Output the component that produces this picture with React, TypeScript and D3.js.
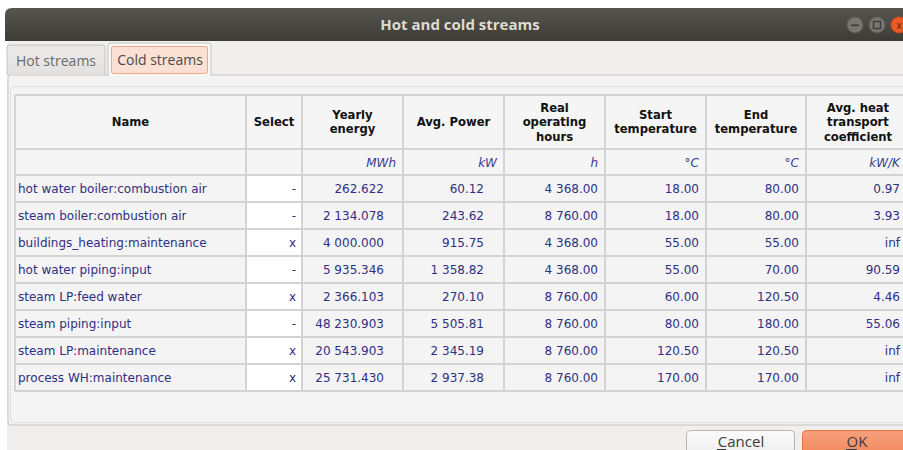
import { cumsum, format, formatLocale, scaleBand } from "d3";

const names = [
  "hot water boiler:combustion air",
  "steam boiler:combustion air",
  "buildings_heating:maintenance",
  "hot water piping:input",
  "steam LP:feed water",
  "steam piping:input",
  "steam LP:maintenance",
  "process WH:maintenance",
];
const selected = ["-", "-", "x", "-", "x", "-", "x", "x"];
const yearlyEnergy = [262.622, 2134.078, 4000, 5935.346, 2366.103, 48230.903, 20543.903, 25731.43];
const avgPower = [60.12, 243.62, 915.75, 1358.82, 270.1, 5505.81, 2345.19, 2937.38];
const operatingHours = [4368, 8760, 4368, 4368, 8760, 8760, 8760, 8760];
const startTemp = [18, 18, 55, 55, 60, 80, 120.5, 170];
const endTemp = [80, 80, 55, 70, 120.5, 180, 120.5, 170];
const heatCoef = [0.97, 3.93, Infinity, 90.59, 4.46, 55.06, Infinity, Infinity];

const headers = [
  ["Name"],
  ["Select"],
  ["Yearly", "energy"],
  ["Avg. Power"],
  ["Real", "operating", "hours"],
  ["Start", "temperature"],
  ["End", "temperature"],
  ["Avg. heat", "transport", "coefficient"],
];
const units = ["", "", "MWh", "kW", "h", "°C", "°C", "kW/K"];

const locale = formatLocale({ decimal: ".", thousands: " ", grouping: [3], currency: ["", ""] });
const f3 = locale.format(",.3f");
const f2 = locale.format(",.2f");
const fCoef = (v: number) => (Number.isFinite(v) ? format(".2f")(v) : "inf");

// layout
const colWidths = [231, 56, 101, 101, 101, 101, 100, 104];
const tableLeft = 15;
const tableTop = 95;
const headerH = 54;
const unitH = 26;
const rowH = 27;
const numPad = [0, 6, 19, 20, 7, 7, 7, 10];
const unitPad = [0, 6, 7, 7, 7, 7, 7, 10];

const grid = "#d3d3d3";
const ink = "#2f2f82";
const tableFont = "'DejaVu Sans', sans-serif";
const uiFont = "'Open Sans', 'Noto Sans', sans-serif";

export default function App() {
  const edges = [tableLeft, ...Array.from(cumsum(colWidths), (w) => tableLeft + w)];
  const unitTop = tableTop + headerH;
  const bodyTop = unitTop + unitH;

  const y = scaleBand<number>()
    .domain(names.map((_, i) => i))
    .range([bodyTop, bodyTop + rowH * names.length]);
  const tableBottom = bodyTop + rowH * names.length;

  const rows = names.map((name, i) => [
    name,
    selected[i],
    f3(yearlyEnergy[i]),
    f2(avgPower[i]),
    f2(operatingHours[i]),
    f2(startTemp[i]),
    f2(endTemp[i]),
    fCoef(heatCoef[i]),
  ]);

  return (
    <div style={{ position: "absolute", left: 0, top: 0 }}>
      <svg width={903} height={450} viewBox="0 0 903 450" style={{ display: "block" }}>
        <defs>
          <linearGradient id="titleGrad" x1="0" y1="0" x2="0" y2="1">
            <stop offset="0" stopColor="#57554f" />
            <stop offset="1" stopColor="#3c3b37" />
          </linearGradient>
          <linearGradient id="okGrad" x1="0" y1="0" x2="0" y2="1">
            <stop offset="0" stopColor="#f7a07c" />
            <stop offset="1" stopColor="#f2875d" />
          </linearGradient>
          <linearGradient id="btnGrad" x1="0" y1="0" x2="0" y2="1">
            <stop offset="0" stopColor="#fbfbfb" />
            <stop offset="1" stopColor="#ececec" />
          </linearGradient>
          <linearGradient id="tabGrad" x1="0" y1="0" x2="0" y2="1">
            <stop offset="0" stopColor="#ecebea" />
            <stop offset="1" stopColor="#e2e1df" />
          </linearGradient>
        </defs>

        <rect width={903} height={450} fill="#ffffff" />

        {/* window body */}
        <rect x={7} y={30} width={900} height={430} fill="#f0efed" />
        {/* title bar */}
        <path d="M5 41 L5 15 Q5 8 12 8 L910 8 L910 41 Z" fill="url(#titleGrad)" />
        <text
          x={460}
          y={30}
          textAnchor="middle"
          fill="#dfdbd2"
          fontFamily={uiFont}
          fontWeight={700}
          fontSize={15}
        >
          Hot and cold streams
        </text>
        <circle cx={855} cy={25} r={8} fill="#77766f" stroke="#5b5a55" />
        <rect x={851} y={24.5} width={8} height={1.6} fill="#3c3b37" />
        <circle cx={877} cy={25} r={8} fill="#77766f" stroke="#5b5a55" />
        <rect x={873.5} y={21.5} width={7} height={7} fill="none" stroke="#3c3b37" strokeWidth={1.4} />
        <circle cx={899} cy={25} r={8} fill="#ea5a24" stroke="#c8481a" />
        <text x={899} y={29} textAnchor="middle" fontSize={10} fontFamily={uiFont} fill="#4a2210">
          x
        </text>

        {/* notebook panel */}
        <rect x={8} y={75} width={905} height={350} rx={3} fill="#f4f4f4" stroke="#c6c4c1" />
        <rect x={10.5} y={86.5} width={905} height={336} rx={4} fill="#f4f4f4" stroke="#e0dedc" />

        {/* tabs */}
        <path d="M7 75 L7 48 Q7 45 10 45 L102 45 Q105 45 105 48 L105 75" fill="url(#tabGrad)" stroke="#c6c4c1" />
        <text x={56} y={66} textAnchor="middle" fill="#6a6a6a" fontFamily={uiFont} fontSize={14}>
          Hot streams
        </text>
        <path d="M108 76 L108 46 Q108 43 111 43 L208 43 Q211 43 211 46 L211 76" fill="#f7f7f7" stroke="#c6c4c1" />
        <rect x={111.5} y={46.5} width={96} height={27} rx={2} fill="#fbe1d4" stroke="#f0a786" />
        <text x={160} y={65} textAnchor="middle" fill="#4a4a4a" fontFamily={uiFont} fontSize={14}>
          Cold streams
        </text>

        {/* table header */}
        <rect x={tableLeft} y={tableTop} width={903} height={headerH + unitH} fill="#f5f5f5" />
        {headers.map((lines, c) => {
          const cx = (edges[c] + edges[c + 1]) / 2;
          const mid = tableTop + headerH / 2;
          return (
            <text
              key={c}
              textAnchor="middle"
              fontFamily={tableFont}
              fontWeight="bold"
              fontSize={11.6}
              fill="#111111"
            >
              {lines.map((line, k) => (
                <tspan key={k} x={cx} y={mid + 4 + (k - (lines.length - 1) / 2) * 14.5}>
                  {line}
                </tspan>
              ))}
            </text>
          );
        })}
        {units.map((u, c) => (
          <text
            key={c}
            x={edges[c + 1] - unitPad[c]}
            y={unitTop + 18}
            textAnchor="end"
            fontFamily={tableFont}
            fontStyle="italic"
            fontSize={12}
            fill="#3a3a8e"
          >
            {u}
          </text>
        ))}

        {/* body cells */}
        {rows.map((cells, r) => (
          <g key={r}>
            {cells.map((_, c) => (
              <rect
                key={c}
                x={edges[c]}
                y={y(r)}
                width={edges[c + 1] - edges[c]}
                height={y.bandwidth()}
                fill={c === 1 ? "#ffffff" : "#f4f4f4"}
              />
            ))}
            {cells.map((v, c) => (
              <text
                key={`t${c}`}
                x={c === 0 ? edges[0] + 3 : edges[c + 1] - numPad[c]}
                y={(y(r) ?? 0) + 18}
                textAnchor={c === 0 ? "start" : "end"}
                fontFamily={tableFont}
                fontSize={12}
                fill={ink}
              >
                {v}
              </text>
            ))}
          </g>
        ))}

        {/* grid lines */}
        {[tableTop, unitTop, ...names.map((_, i) => y(i) ?? 0), tableBottom].map((yy, i) => (
          <line key={`h${i}`} x1={tableLeft} x2={903} y1={yy} y2={yy} stroke={grid} strokeWidth={2} />
        ))}
        {edges.map((xx, i) => (
          <line key={`v${i}`} x1={xx} x2={xx} y1={tableTop} y2={tableBottom} stroke={grid} strokeWidth={2} />
        ))}

        {/* buttons */}
        <rect x={686.5} y={430.5} width={108} height={26} rx={4} fill="url(#btnGrad)" stroke="#b8b6b3" />
        <text x={741} y={447} textAnchor="middle" fontFamily={uiFont} fontSize={15} fill="#3c3c3c">
          Cancel
        </text>
        <line x1={717} x2={726} y1={449.5} y2={449.5} stroke="#3c3c3c" />
        <rect x={802.5} y={430.5} width={110} height={26} rx={4} fill="url(#okGrad)" stroke="#e2713f" />
        <text x={857} y={447} textAnchor="middle" fontFamily={uiFont} fontSize={15} fill="#3c3c3c">
          OK
        </text>
        <line x1={846} x2={857} y1={449.5} y2={449.5} stroke="#3c3c3c" />
      </svg>
    </div>
  );
}
